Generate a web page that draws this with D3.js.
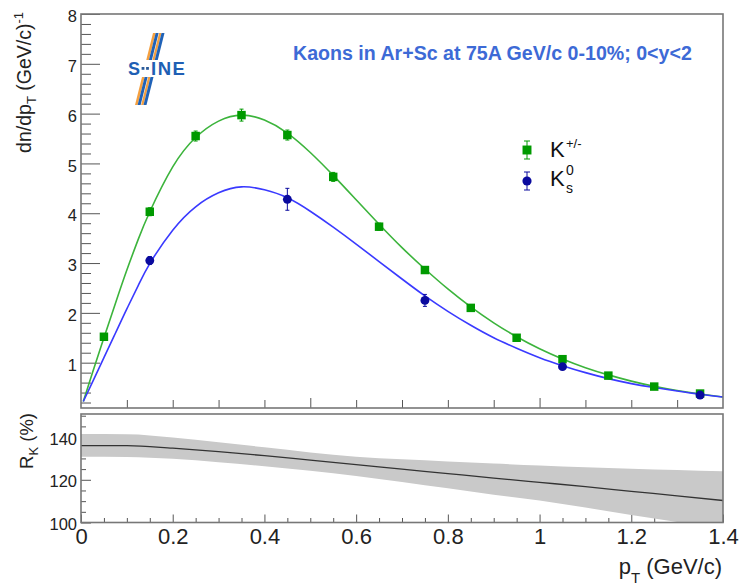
<!DOCTYPE html>
<html>
<head>
<meta charset="utf-8">
<script src="https://cdn.jsdelivr.net/npm/d3@7"></script>
<style>
  body { margin: 0; background: #fff; }
  svg { display: block; }
  text { font-family: "Liberation Sans", Arial, Helvetica, sans-serif; }
</style>
</head>
<body>
<svg id="chart" width="741" height="586"></svg>
<script>
// Charged kaon spectrum (squares)
const chargedPt = [0.05, 0.15, 0.25, 0.35, 0.45, 0.55, 0.65, 0.75, 0.85, 0.95, 1.05, 1.15, 1.25, 1.35];
const chargedYield = [1.52, 4.03, 5.55, 5.97, 5.57, 4.73, 3.73, 2.86, 2.10, 1.50, 1.07, 0.74, 0.52, 0.38];
const chargedErr = [0.06, 0.08, 0.10, 0.12, 0.10, 0.09, 0.07, 0.06, 0.05, 0.04, 0.04, 0.03, 0.03, 0.03];

// Neutral kaon spectrum (circles)
const neutralPt = [0.15, 0.45, 0.75, 1.05, 1.35];
const neutralYield = [3.05, 4.28, 2.25, 0.92, 0.35];
const neutralErr = [0.08, 0.22, 0.12, 0.05, 0.03];

// Fitted curves sampled in pT
const fitPt = [0.005, 0.025, 0.05, 0.075, 0.1, 0.125, 0.15, 0.2, 0.25, 0.3, 0.35, 0.4, 0.45, 0.5, 0.55,
  0.6, 0.65, 0.7, 0.75, 0.8, 0.85, 0.9, 0.95, 1.0, 1.05, 1.1, 1.15, 1.2, 1.25, 1.3, 1.35, 1.4];
const fitCharged = [0.22, 0.80, 1.50, 2.19, 2.86, 3.48, 4.03, 4.93, 5.52, 5.85, 5.97, 5.87, 5.61, 5.22, 4.76,
  4.27, 3.78, 3.31, 2.88, 2.48, 2.12, 1.80, 1.52, 1.28, 1.075, 0.90, 0.755, 0.63, 0.525, 0.44, 0.37, 0.31];
const fitNeutral = [0.22, 0.61, 1.10, 1.59, 2.08, 2.55, 2.99, 3.66, 4.13, 4.41, 4.53, 4.47, 4.31, 4.04, 3.72,
  3.38, 3.03, 2.68, 2.34, 2.03, 1.75, 1.50, 1.29, 1.10, 0.94, 0.80, 0.68, 0.58, 0.50, 0.43, 0.365, 0.31];

// Ratio R_K with its uncertainty band
const ratioPt = [0, 0.1, 0.2, 0.3, 0.4, 0.5, 0.6, 0.7, 0.8, 0.9, 1.0, 1.1, 1.2, 1.3, 1.4];
const ratioMid = [136.0, 136.0, 134.8, 133.2, 131.3, 129.2, 127.1, 125.0, 122.9, 120.8, 118.8, 116.8, 114.6, 112.5, 110.3];
const ratioHigh = [141.4, 141.3, 139.8, 137.6, 135.2, 132.8, 130.8, 129.6, 128.6, 127.6, 126.7, 125.9, 125.2, 124.6, 124.0];
const ratioLow = [130.8, 130.7, 129.8, 128.2, 126.3, 124.2, 121.8, 119.0, 116.0, 113.0, 110.3, 107.0, 103.5, 100.2, 97.0];

// Tick labels
const yTopLabels = [1, 2, 3, 4, 5, 6, 7, 8];
const yBotLabels = [100, 120, 140];
const xLabels = [0, 0.2, 0.4, 0.6, 0.8, 1, 1.2, 1.4];

const title = "Kaons in Ar+Sc at 75A GeV/c 0-10%; 0<y<2";

const svg = d3.select("#chart");
const L = 81, R = 723;
const top1 = 14, bot1 = 408, top2 = 414, bot2 = 522.5;

const x = d3.scaleLinear([0, 1.4], [L, R]);
const yTop = d3.scaleLinear([0.09, 8], [bot1, top1]);
const yBot = d3.scaleLinear([100, 150.8], [bot2, top2]);

const green = "#009a00", greenLine = "#3cb43c";
const blue = "#0a0a9e", blueLine = "#3a3aff";
const tickColor = "#555", labelColor = "#222";

const defs = svg.append("defs");
defs.append("clipPath").attr("id", "clipTop").append("rect")
  .attr("x", L).attr("y", top1).attr("width", R - L).attr("height", bot1 - top1);
defs.append("clipPath").attr("id", "clipBot").append("rect")
  .attr("x", L).attr("y", top2).attr("width", R - L).attr("height", bot2 - top2);

const range = (a, b, s) => d3.range(Math.round(a / s), Math.round(b / s) + 1).map(i => +(i * s).toFixed(4));

function ticks(gen, values, size, fmt) {
  const g = svg.append("g").call(gen.tickValues(values).tickSizeInner(-size).tickSizeOuter(0).tickFormat(fmt || (() => "")));
  g.select(".domain").remove();
  g.selectAll(".tick line").attr("stroke", tickColor).attr("stroke-width", 1);
  return g;
}

// ---- upper panel axes
const yTopMinor = range(0.2, 8, 0.2).filter(v => Math.abs(v - Math.round(v)) > 1e-6);
ticks(d3.axisLeft(yTop), yTopMinor, 10).attr("transform", `translate(${L},0)`);
const gYT = ticks(d3.axisLeft(yTop), yTopLabels, 19, d3.format("d")).attr("transform", `translate(${L},0)`);
gYT.selectAll(".tick text").attr("x", -4).attr("dy", "7.6").attr("font-size", 16.5).attr("fill", labelColor)
  .attr("font-family", "Liberation Sans, Arial, sans-serif");

const xTopMinor = range(0.1, 1.3, 0.1).filter(v => Math.abs(v - 0.5) > 1e-6 && Math.abs(v - 1) > 1e-6);
ticks(d3.axisBottom(x), xTopMinor, 8).attr("transform", `translate(0,${bot1})`);
ticks(d3.axisBottom(x), [0.5, 1.0], 10).attr("transform", `translate(0,${bot1})`);

// ---- lower panel axes
const yBotMinor = range(100, 150, 5).filter(v => v % 20 !== 0);
ticks(d3.axisLeft(yBot), yBotMinor, 5).attr("transform", `translate(${L},0)`);
const gYB = ticks(d3.axisLeft(yBot), yBotLabels, 10, d3.format("d")).attr("transform", `translate(${L},0)`);
gYB.selectAll(".tick text").attr("x", -4).attr("dy", "7").attr("font-size", 16.5).attr("fill", labelColor)
  .attr("font-family", "Liberation Sans, Arial, sans-serif");

const xBotMinor = range(0.05, 1.35, 0.05).filter(v => Math.abs(v / 0.2 - Math.round(v / 0.2)) > 1e-6);
ticks(d3.axisBottom(x), xBotMinor, 4.5).attr("transform", `translate(0,${bot2})`);
const gXB = ticks(d3.axisBottom(x), xLabels, 8, d3.format("")).attr("transform", `translate(0,${bot2})`);
gXB.selectAll(".tick text").attr("y", 6).attr("dy", "0.71em").attr("font-size", 22).attr("fill", labelColor)
  .attr("font-family", "Liberation Sans, Arial, sans-serif");

// ---- ratio band and central line
const band = d3.area().x((d, i) => x(ratioPt[i])).y0((d, i) => yBot(ratioLow[i])).y1((d, i) => yBot(ratioHigh[i]))
  .curve(d3.curveMonotoneX);
svg.append("path").attr("clip-path", "url(#clipBot)").attr("d", band(ratioPt)).attr("fill", "#c9c9c9");
const midLine = d3.line().x((d, i) => x(ratioPt[i])).y((d, i) => yBot(ratioMid[i])).curve(d3.curveMonotoneX);
svg.append("path").attr("clip-path", "url(#clipBot)").attr("d", midLine(ratioPt))
  .attr("fill", "none").attr("stroke", "#333").attr("stroke-width", 1.3);

// ---- fitted curves
function curve(vals, color) {
  const line = d3.line().x((d, i) => x(fitPt[i])).y((d, i) => yTop(vals[i])).curve(d3.curveNatural);
  svg.append("path").attr("clip-path", "url(#clipTop)").attr("d", line(fitPt))
    .attr("fill", "none").attr("stroke", color).attr("stroke-width", 1.6);
}
curve(fitCharged, greenLine);
curve(fitNeutral, blueLine);

// ---- data points with error bars
function points(ptArr, yArr, errArr, color, symbolType, size) {
  const g = svg.append("g");
  ptArr.forEach((p, i) => {
    const cx = x(p), cy = yTop(yArr[i]);
    const y1 = yTop(yArr[i] + errArr[i]), y2 = yTop(yArr[i] - errArr[i]);
    g.append("line").attr("x1", cx).attr("x2", cx).attr("y1", y1).attr("y2", y2).attr("stroke", color).attr("stroke-width", 1);
    [y1, y2].forEach(yy => g.append("line").attr("x1", cx - 2).attr("x2", cx + 2).attr("y1", yy).attr("y2", yy)
      .attr("stroke", color).attr("stroke-width", 1));
    g.append("path").attr("d", d3.symbol(symbolType, size)()).attr("transform", `translate(${cx},${cy})`).attr("fill", color);
  });
}
points(chargedPt, chargedYield, chargedErr, green, d3.symbolSquare, 72);
points(neutralPt, neutralYield, neutralErr, blue, d3.symbolCircle, 62);

// ---- frames
svg.append("rect").attr("x", L).attr("y", top1).attr("width", R - L).attr("height", bot1 - top1)
  .attr("fill", "none").attr("stroke", "#777").attr("stroke-width", 1.6);
svg.append("rect").attr("x", L).attr("y", top2).attr("width", R - L).attr("height", bot2 - top2)
  .attr("fill", "none").attr("stroke", "#777").attr("stroke-width", 1.6);

// ---- legend
function legendEntry(cx, cy, color, symbolType, size, halfBar) {
  const g = svg.append("g");
  g.append("line").attr("x1", cx).attr("x2", cx).attr("y1", cy - halfBar).attr("y2", cy + halfBar).attr("stroke", color);
  [cy - halfBar, cy + halfBar].forEach(yy => g.append("line").attr("x1", cx - 3).attr("x2", cx + 3)
    .attr("y1", yy).attr("y2", yy).attr("stroke", color));
  g.append("path").attr("d", d3.symbol(symbolType, size)()).attr("transform", `translate(${cx},${cy})`).attr("fill", color);
}
legendEntry(527, 150, green, d3.symbolSquare, 80, 9);
legendEntry(527, 181, blue, d3.symbolCircle, 66, 9);
svg.append("text").attr("x", 550).attr("y", 157).attr("font-size", 22).attr("fill", "#111").text("K");
svg.append("text").attr("x", 566).attr("y", 148).attr("font-size", 13).attr("fill", "#111").text("+/-");
svg.append("text").attr("x", 550).attr("y", 185.5).attr("font-size", 22).attr("fill", "#111").text("K");
svg.append("text").attr("x", 566).attr("y", 175).attr("font-size", 14).attr("fill", "#111").text("0");
svg.append("text").attr("x", 566).attr("y", 192.5).attr("font-size", 14).attr("fill", "#111").text("s");

// ---- title
svg.append("text").attr("x", 293).attr("y", 60).attr("font-size", 19.6).attr("font-weight", "bold")
  .attr("fill", "#3d6ad6").text(title);

// ---- experiment logo
const logo = svg.append("g");
const slope = -0.25;
function strip(xTop, w, ya, yb, color) {
  const xa = xTop + slope * (ya - 35), xb = xTop + slope * (yb - 35);
  logo.append("polygon").attr("points", `${xa},${ya} ${xa + w},${ya} ${xb + w},${yb} ${xb},${yb}`).attr("fill", color);
}
[[33, 60], [77, 105]].forEach(([ya, yb]) => {
  strip(152.5, 2.6, ya, yb, "#f4a040");
  strip(155.1, 3.0, ya, yb, "#1f62b8");
  strip(158.6, 2.4, ya, yb, "#f4a040");
  strip(161.0, 3.0, ya, yb, "#1f62b8");
});
logo.append("text").attr("x", 128).attr("y", 75).attr("font-size", 18).attr("font-weight", "bold")
  .attr("fill", "#1f5fb4").text("S");
[143, 147.5].forEach(cx => logo.append("rect").attr("x", cx - 1.4).attr("y", 67).attr("width", 2.8).attr("height", 2.8).attr("fill", "#2a5a9a"));
logo.append("text").attr("x", 151).attr("y", 75).attr("font-size", 18.5).attr("font-weight", "bold")
  .attr("letter-spacing", 1.5).attr("fill", "#1f5fb4").text("INE");

// ---- axis titles
const yt = svg.append("text").attr("transform", "translate(31,12) rotate(-90)").attr("text-anchor", "end")
  .attr("font-size", 19.5).attr("fill", labelColor);
yt.append("tspan").text("dn/dp");
yt.append("tspan").attr("font-size", 13).attr("dy", 5).text("T");
yt.append("tspan").attr("dy", -5).text(" (GeV/c)");
yt.append("tspan").attr("font-size", 13).attr("dy", -8).text("-1");

const rt = svg.append("text").attr("transform", "translate(33,413) rotate(-90)").attr("text-anchor", "end")
  .attr("font-size", 18.5).attr("fill", labelColor);
rt.append("tspan").text("R");
rt.append("tspan").attr("font-size", 13).attr("dy", 5).text("K");
rt.append("tspan").attr("dy", -5).text(" (%)");

const xt = svg.append("text").attr("x", 722).attr("y", 574).attr("text-anchor", "end")
  .attr("font-size", 22).attr("fill", labelColor);
xt.append("tspan").text("p");
xt.append("tspan").attr("font-size", 15).attr("dy", 9).text("T");
xt.append("tspan").attr("dy", -9).text(" (GeV/c)");
</script>
</body>
</html>
